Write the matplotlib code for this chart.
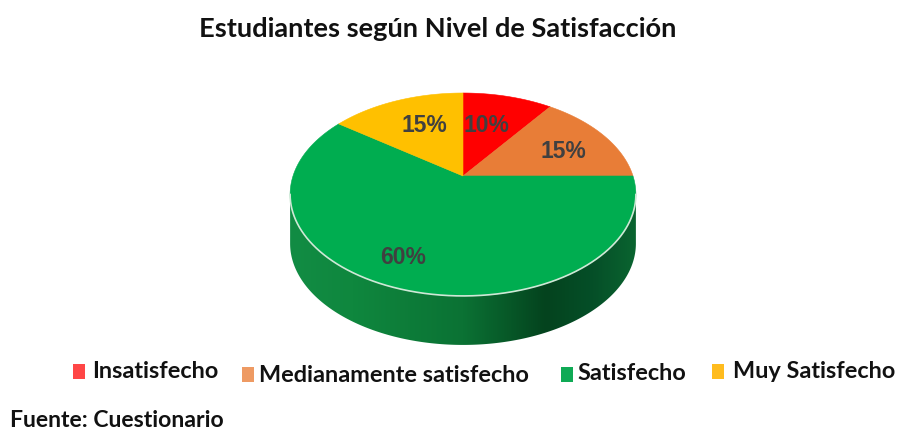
import numpy as np
import matplotlib
matplotlib.use("Agg")
import matplotlib.pyplot as plt
from matplotlib.colors import LinearSegmentedColormap
from matplotlib.patches import Polygon, Rectangle

title = "Estudiantes según Nivel de Satisfacción"
categories = ["Insatisfecho", "Medianamente satisfecho", "Satisfecho", "Muy Satisfecho"]
values = [10, 15, 60, 15]
slice_colors = ["#FF0000", "#E87D37", "#00AD50", "#FFC000"]
legend_colors = ["#FF4646", "#EE9A63", "#0FAA55", "#FFBC1E"]
source = "Fuente: Cuestionario"

W, H = 898, 433
fig = plt.figure(figsize=(W / 100, H / 100), dpi=100, facecolor="white")
helper = fig.add_axes([0, 0, 0.01, 0.01])
wedges, _ = helper.pie(values, startangle=90, counterclock=False)
angles = [(w.theta1, w.theta2) for w in wedges]
helper.remove()

ax = fig.add_axes([0, 0, 1, 1])
ax.set_xlim(0, W)
ax.set_ylim(H, 0)
ax.axis("off")

CX, CY, K, A, B, DEPTH = 463.0, 176.0, 0.182, 98.1, 170.0, 49.0


def project(theta_deg):
    t = np.radians(theta_deg)
    u, v = np.cos(t), np.sin(t)
    d = 1 + K * v
    return CX + B * u / d, CY - A * v / d


# side wall
th = np.linspace(0, 360, 1441)
rx, ry = project(th)
il, ir = int(np.argmin(rx)), int(np.argmax(rx))
lo = np.arange(il, ir + 1)
arc = np.column_stack([rx[lo], ry[lo]])
side = np.vstack([arc, arc[::-1] + [0, DEPTH]])
side_patch = Polygon(side, closed=True, fc="none", ec="none")
ax.add_patch(side_patch)
cmap = LinearSegmentedColormap.from_list(
    "side",
    [(0.0, "#128C44"), (0.18, "#0F873E"), (0.5, "#0B7234"), (0.74, "#04431E"),
     (0.88, "#054F28"), (1.0, "#0A6430")],
)
img = ax.imshow(np.linspace(0, 1, 400)[None, :], cmap=cmap, aspect="auto",
                extent=[rx.min(), rx.max(), ry.max() + DEPTH, ry.min()], zorder=1)
img.set_clip_path(side_patch)
ax.set_xlim(0, W)
ax.set_ylim(H, 0)

# top surface
for (t1, t2), c in zip(angles, slice_colors):
    px, py = project(np.linspace(t1, t2, 300))
    pts = np.vstack([[CX, CY], np.column_stack([px, py])])
    ax.add_patch(Polygon(pts, closed=True, fc=c, ec=c, lw=0.4, zorder=2))
ax.plot(arc[:, 0], arc[:, 1], color="#CFE8D6", lw=1.2, zorder=3)

# data labels
label_pos = [(486, 126), (563, 152), (403, 258), (424, 125)]
for v, (x, y) in zip(values, label_pos):
    ax.text(x, y, f"{v}%", ha="center", va="center", fontsize=16.5, fontweight="bold",
            family="Liberation Sans", color="#404040", zorder=4)

ax.text(438, 29, title, ha="center", va="center", fontsize=19.6, fontweight="bold",
        family="Lato", color="#111111")

# legend
sq = [(73, 364), (242, 367), (561, 367), (712, 364)]
tx = [(92, 372), (259, 375), (577, 374), (733, 372)]
for (sx, sy), (x, y), name, c in zip(sq, tx, categories, legend_colors):
    ax.add_patch(Rectangle((sx, sy), 12, 15, fc=c, ec="none"))
    ax.text(x, y, name, ha="left", va="center", fontsize=16.9, fontweight="bold",
            family="Lato", color="#111111")

ax.text(10, 431, source, ha="left", va="bottom", fontsize=16.6, fontweight="bold",
        family="Lato", color="#111111")

fig.savefig("out.png", dpi=100)
